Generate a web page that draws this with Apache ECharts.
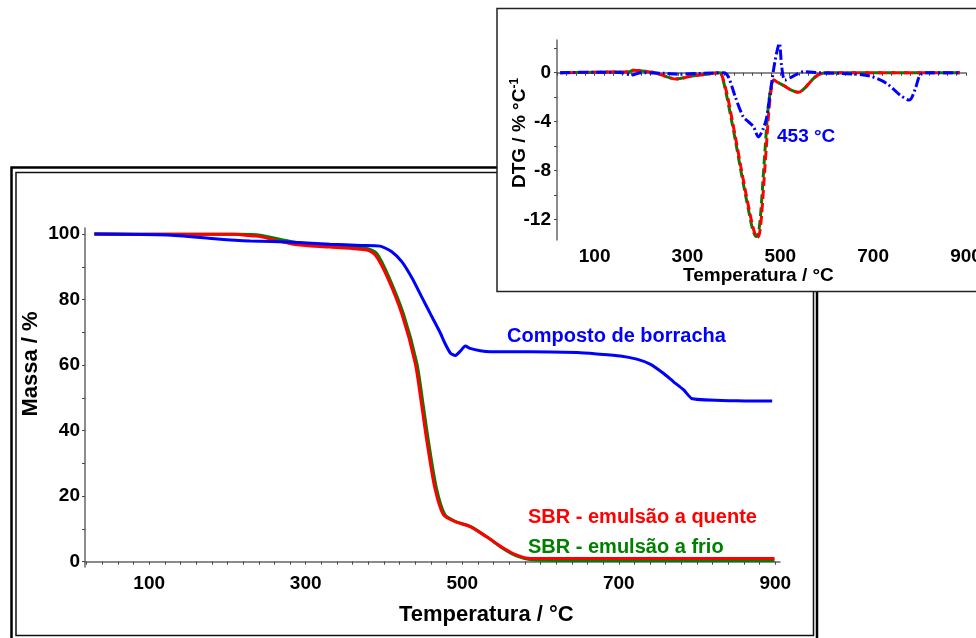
<!DOCTYPE html>
<html>
<head>
<meta charset="utf-8">
<script src="https://cdn.jsdelivr.net/npm/echarts@6/dist/echarts.min.js"></script>
<style>
html,body{margin:0;padding:0;background:#fff;}
#chart{width:976px;height:638px;}
</style>
</head>
<body>
<div id="chart"></div>
<script>
// curvas TG (massa %)
var tBorracha=[30,123,187,229,284,331,370,395,410,423,436,448,460,472,478,485,491,497,504,510,523,536,587,647,672,702,723,740,757,770,783,794,851,896];
var mBorracha=[100,99.7,98.5,97.9,97.5,96.9,96.5,96.3,94.6,91.5,86.5,80.9,75.3,69.8,66.6,63.6,62.9,64.1,65.8,65.1,64.4,64.1,64.1,63.8,63.4,62.8,61.8,60.3,57.5,54.9,52.4,49.7,49.1,49.0];

var tQuente=[30,120,208,233,242,284,331,378,389,404,423,440,448,455,465,476,491,510,531,553,570,587,620,899];
var mQuente=[100,99.9,99.9,99.4,99.2,96.9,96.0,95.1,93.6,87.0,75.5,60.5,48.0,36.5,22.5,14.3,12.2,10.7,7.6,4.1,2.0,1.0,1.0,1.0];

var tFrio=[30,120,215,242,284,331,378,391,406,425,442,450,457,467,478,492,511,532,553,570,588,620,899];
var mFrio=[100,99.9,99.9,99.6,97.6,96.4,95.6,94.0,87.0,75.5,60.5,48.0,36.5,22.5,14.3,12.2,10.7,7.5,3.9,1.7,0.6,0.4,0.4];

// curvas DTG (% / °C)
var tdBorracha=[26,100,160,180,200,250,280,330,378,388,403,420,431,442,453,463,471,478,489,498,503,510,525,550,585,657,693,729,758,778,790,801,815,887];
var dBorracha=[0,0.05,0,-0.19,0,-0.05,-0.12,-0.05,0,-0.33,-1.96,-3.6,-4.0,-4.4,-5.25,-4.6,-3.6,-1.7,1.04,2.4,0.49,-0.6,-0.33,0.08,0,-0.1,-0.27,-0.87,-1.83,-2.24,-1.4,-0.2,0,0];

var tdQuente=[26,120,173,183,230,259,277,309,345,370,374,385,395,405,415,425,435,443,450,455,460,465,470,475,480,486,495,510,525,539,550,560,575,590,600,887];
var dQuente=[0,0.05,0.08,0.2,0,-0.38,-0.52,-0.27,-0.1,0,-0.19,-1.7,-3.6,-5.6,-7.7,-9.7,-11.6,-12.9,-13.5,-13.2,-11.5,-8.8,-6.0,-3.3,-1.5,-0.6,-0.8,-1.1,-1.45,-1.6,-1.35,-0.95,-0.35,-0.05,0,0];

var tdFrio=[26,120,173,183,230,259,277,309,345,370,374,384,394,404,414,424,434,441,448,453,458,463,468,473,479,486,495,510,525,539,550,560,575,590,600,887];
var dFrio=[0,0.05,0.08,0.2,0,-0.38,-0.5,-0.27,-0.1,0,-0.2,-1.8,-3.7,-5.7,-7.8,-9.8,-11.7,-12.9,-13.4,-13.1,-11.4,-8.6,-5.8,-3.2,-1.4,-0.6,-0.8,-1.1,-1.45,-1.6,-1.35,-0.95,-0.35,-0.05,0,0];

// eixos
var ticksMassa=[0,10,20,30,40,50,60,70,80,90,100];
var rotulosMassa=[0,20,40,60,80,100];
var rotulosTemp=[100,300,500,700,900];
var ticksTemp=[];
for(var k=20;k<=900;k+=20){ticksTemp.push(k);}
var ticksDtg=[-12,-10,-8,-6,-4,-2,0,2];
var rotulosDtg=[-12,-8,-4,0];

var fonte="'Liberation Sans', Arial, sans-serif";

function pares(t,v){
	var out=[];
	for(var i=0;i<t.length;i++){out.push([t[i],v[i]]);}
	return out;
}

var chart=echarts.init(document.getElementById("chart"));

function eixoX(grid,min,max,z){
	return {
		type:'value',gridIndex:grid,min:min,max:max,z:z,
		axisLine:{lineStyle:{color:'#666',width:1.5}},
		axisTick:{show:true,length:3,lineStyle:{color:'#444'},customValues:ticksTemp},
		axisLabel:{fontFamily:fonte,fontWeight:'bold',fontSize:19,color:'#000',margin:7,customValues:rotulosTemp},
		splitLine:{show:false}
	};
}

function texto(x,y,txt,cor,tam,z,rot){
	var el={type:'text',z:z,x:x,y:y,style:{text:txt,fill:cor,font:'bold '+tam+'px '+fonte,
		align:'left',verticalAlign:'middle',textAlign:'left',textVerticalAlign:'middle'}};
	if(rot){el.rotation=rot;el.style.align='center';el.style.textAlign='center';}
	return el;
}

var option={
	animation:false,
	backgroundColor:'#fff',
	grid:[
		{left:85,top:228,width:695,height:339,outerBoundsMode:'none'},
		{left:557,top:40,width:409,height:200,z:60,outerBoundsMode:'none'}
	],
	xAxis:[
		eixoX(0,18,906,0),
		eixoX(1,19,900,60)
	],
	yAxis:[
		{
			type:'value',gridIndex:0,min:-1.62,max:101.83,
			axisLine:{show:true,lineStyle:{color:'#666',width:1.5}},
			axisTick:{show:true,length:3,lineStyle:{color:'#444'},customValues:ticksMassa},
			axisLabel:{fontFamily:fonte,fontWeight:'bold',fontSize:19,color:'#000',margin:5,customValues:rotulosMassa},
			splitLine:{show:false}
		},
		{
			type:'value',gridIndex:1,min:-13.69,max:2.68,z:60,
			axisLine:{show:true,lineStyle:{color:'#666',width:1.5}},
			axisTick:{show:true,length:3,lineStyle:{color:'#444'},customValues:ticksDtg},
			axisLabel:{fontFamily:fonte,fontWeight:'bold',fontSize:19,color:'#000',margin:6,customValues:rotulosDtg},
			splitLine:{show:false}
		}
	],
	series:[
		{name:'frio',type:'line',xAxisIndex:0,yAxisIndex:0,data:pares(tFrio,mFrio),showSymbol:false,smooth:0.25,lineStyle:{color:'#008000',width:3},z:2},
		{name:'quente',type:'line',xAxisIndex:0,yAxisIndex:0,data:pares(tQuente,mQuente),showSymbol:false,smooth:0.25,lineStyle:{color:'#ff0000',width:3},z:3},
		{name:'borracha',type:'line',xAxisIndex:0,yAxisIndex:0,data:pares(tBorracha,mBorracha),showSymbol:false,smooth:0.2,lineStyle:{color:'#0000ff',width:3},z:4},
		{name:'frio dtg',type:'line',xAxisIndex:1,yAxisIndex:1,data:pares(tdFrio,dFrio),showSymbol:false,smooth:0.3,lineStyle:{color:'#008000',width:3,type:[9,4]},z:61},
		{name:'quente dtg',type:'line',xAxisIndex:1,yAxisIndex:1,data:pares(tdQuente,dQuente),showSymbol:false,smooth:0.3,lineStyle:{color:'#ff0000',width:3,type:[9,4],dashOffset:6},z:62},
		{name:'borracha dtg',type:'line',xAxisIndex:1,yAxisIndex:1,data:pares(tdBorracha,dBorracha),showSymbol:false,smooth:0.3,lineStyle:{color:'#0000ff',width:3,type:[10,3,2,3]},z:63}
	],
	graphic:[
		{type:'rect',z:1,shape:{x:11.5,y:167.5,width:805.5,height:480},style:{fill:'none',stroke:'#000',lineWidth:2.5}},
		{type:'rect',z:1,shape:{x:16,y:172.5,width:797.5,height:463},style:{fill:'none',stroke:'#111',lineWidth:1.5}},
		{type:'rect',z:50,shape:{x:497,y:8.5,width:500,height:283},style:{fill:'#fff',stroke:'#222',lineWidth:1.5}},
		texto(399,615,'Temperatura / °C','#000',22,5),
		texto(31,364,'Massa / %','#000',22,5,Math.PI/2),
		texto(683,276,'Temperatura / °C','#000',19,70),
		texto(507,336,'Composto de borracha','#0000ff',20,70),
		texto(528,517,'SBR - emulsão a quente','#ff0000',20,70),
		texto(528,547,'SBR - emulsão a frio','#008000',20,70),
		texto(777,137,'453 °C','#0000ff',19,70),
		{type:'text',z:70,x:520,y:133,rotation:Math.PI/2,style:{
			text:'{n|DTG / % °C}{s|-1}',
			align:'center',verticalAlign:'middle',textAlign:'center',textVerticalAlign:'middle',
			rich:{
				n:{fontFamily:fonte,fontWeight:'bold',fontSize:19,fill:'#000',color:'#000',lineHeight:22},
				s:{fontFamily:fonte,fontWeight:'bold',fontSize:12,fill:'#000',color:'#000',verticalAlign:'top',lineHeight:22}
			}
		}}
	]
};

chart.setOption(option);
</script>
</body>
</html>
